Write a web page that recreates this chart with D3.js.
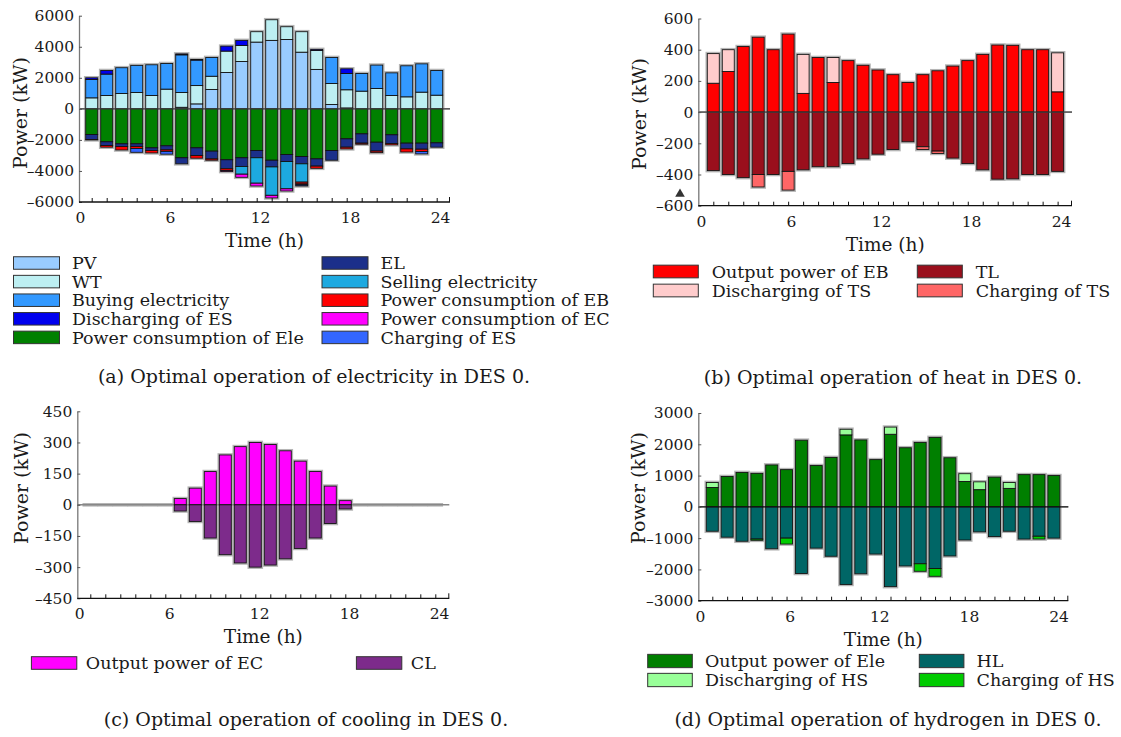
<!DOCTYPE html>
<html><head><meta charset="utf-8">
<script src="https://cdn.jsdelivr.net/npm/d3@7/dist/d3.min.js"></script>
<style>body{margin:0;background:#fff}text{font-family:"DejaVu Serif",serif;fill:#1a1a1a}</style>
</head><body>
<script>
// ---------- data ----------
const hours = d3.range(1, 25);
const timeTicks = [0, 6, 12, 18, 24];

// (a) electricity
const elecTicks = [-6000, -4000, -2000, 0, 2000, 4000, 6000];
const pvPower      = [0,0,0,0,0,0,100,320,1250,2340,3050,4300,4410,4470,3650,2540,280,60,0,0,0,0,0,0];
const wtPower      = [710,860,990,1050,860,1270,950,1180,850,1380,1035,670,1330,820,1320,1220,1350,1170,1140,1310,860,775,1075,880];
const buyingElec   = [1180,1380,1660,1750,1980,1650,2430,1640,1210,0,0,0,0,0,0,0,1680,1050,1140,1510,1460,2000,1825,1590];
const dischargeES  = [110,230,0,0,0,0,60,40,0,320,325,0,0,0,0,70,0,300,0,0,0,0,0,0];
const eleConsume   = [1650,2120,2250,2250,2510,2380,3150,2510,2725,3280,3150,2680,3310,2940,3070,3220,2680,1930,1610,2150,1670,2210,2210,2190];
const elLoad       = [330,240,180,170,170,260,390,500,500,580,560,470,430,450,470,470,630,540,600,570,560,370,390,280];
const sellingElec  = [0,0,0,0,0,0,0,0,0,0,500,1640,1830,1760,1180,0,0,0,0,0,0,0,0,0];
const ebConsume    = [20,110,220,130,160,100,0,170,85,110,0,0,0,0,120,140,0,110,70,100,90,200,150,0];
const ecConsume    = [0,0,0,0,0,0,0,0,0,70,200,180,170,140,60,0,0,0,0,0,0,0,0,0];
const chargeES     = [0,0,0,250,0,180,0,0,0,0,0,0,0,0,70,0,0,0,0,0,0,0,150,0];

// (b) heat
const heatTicks = [-600, -400, -200, 0, 200, 400, 600];
const ebOutput     = [185,260,420,480,400,500,120,350,190,330,300,270,240,190,240,265,295,330,370,430,428,400,400,130];
const dischargeTS  = [190,140,0,0,0,0,250,0,160,0,0,0,0,0,0,0,0,0,0,0,0,0,0,250];
const thermalLoad  = [375,400,420,400,400,380,370,350,350,330,300,270,240,190,222,250,295,330,370,430,428,400,400,380];
const chargeTS     = [0,0,0,80,0,120,0,0,0,0,0,0,0,0,18,15,0,0,0,0,0,0,0,0];

// (c) cooling
const coolTicks = [-450, -300, -150, 0, 150, 300, 450];
const ecOutput     = [0,0,0,0,0,0,30,80,160,240,280,300,290,260,210,160,90,20,0,0,0,0,0,0];
const coolLoad     = [0,0,0,0,0,0,30,80,160,240,280,300,290,260,210,160,90,20,0,0,0,0,0,0];

// (d) hydrogen
const h2Ticks = [-3000, -2000, -1000, 0, 1000, 2000, 3000];
const eleOutput    = [620,970,1100,1070,1340,1190,2130,1320,1580,2300,2140,1510,2320,1890,2060,2220,1570,810,550,950,590,1030,1030,1000];
const dischargeHS  = [160,0,0,0,0,0,0,0,0,180,0,0,230,0,0,0,0,250,250,0,190,0,0,0];
const h2Load       = [780,970,1100,1030,1340,1000,2130,1320,1580,2480,2140,1510,2550,1890,1820,1970,1570,1060,800,950,780,1030,940,1000];
const chargeHS     = [0,0,0,40,0,190,0,0,0,0,0,0,0,0,240,250,0,0,0,0,0,0,90,0];

// ---------- drawing ----------
const svg = d3.select("body").append("svg").attr("width", 1121).attr("height", 737);
const fmt = d => d < 0 ? "\u2013" + Math.abs(d) : String(d);

function drawPanel(p) {
  const g = svg.append("g");
  const y = d3.scaleLinear().domain(p.yDomain).range([p.yBottom, p.yTop]);
  const xb = d3.scaleLinear().domain([1, 24]).range([p.x0 + p.off, p.x0 + p.off + 23 * p.step]);
  const xl = d3.scaleLinear().domain([0, 24]).range(p.labRange);
  const bw = 12;

  // halo
  g.selectAll(".halo").data(hours).join("rect")
    .attr("x", h => xb(h) - bw / 2 - 1).attr("width", bw + 2)
    .attr("y", (h, i) => y(d3.sum(p.pos, s => s.vals[i])) - 1)
    .attr("height", (h, i) => y(-d3.sum(p.neg, s => s.vals[i])) - y(d3.sum(p.pos, s => s.vals[i])) + 2)
    .attr("fill", "none").attr("stroke", "#b5b5b5").attr("stroke-width", 1.6);

  // zero line (under)
  g.append("line").attr("x1", p.x0).attr("x2", p.xRight).attr("y1", y(0)).attr("y2", y(0))
    .attr("stroke", "#888").attr("stroke-width", 1.5);

  function stack(series, sign) {
    const cum = hours.map(() => 0);
    series.forEach(s => {
      g.append("g").selectAll("rect").data(hours).join("rect")
        .attr("x", h => xb(h) - bw / 2).attr("width", bw)
        .attr("y", (h, i) => sign > 0 ? y(cum[i] + s.vals[i]) : y(-cum[i]))
        .attr("height", (h, i) => Math.abs(y(0) - y(s.vals[i])))
        .attr("fill", s.color).attr("stroke", "#111").attr("stroke-width", 0.9)
        .each((h, i) => { cum[i] += s.vals[i]; });
    });
  }
  stack(p.pos, 1);
  stack(p.neg, -1);

  // zero line over bars
  if (p.zeroOver !== false) {
    g.append("line").attr("x1", p.x0).attr("x2", p.xRight).attr("y1", y(0)).attr("y2", y(0))
      .attr("stroke", p.zeroColor || "#444").attr("stroke-width", 1.2).attr("opacity", 0.85);
  }

  // y axis
  const ya = g.append("g").attr("transform", `translate(${p.x0},0)`)
    .call(d3.axisLeft(y).tickValues(p.yTicks).tickFormat(fmt).tickSize(-3).tickSizeOuter(0).tickPadding(5));
  ya.select(".domain").attr("stroke", "#777").attr("stroke-width", 1.3);
  ya.selectAll(".tick line").attr("stroke", "#555");
  ya.selectAll(".tick text").style("font-size", "15.5px").style("font-family", "DejaVu Serif").attr("fill", "#1a1a1a");

  // x axis baseline
  g.append("line").attr("x1", p.x0).attr("x2", p.xRight).attr("y1", p.yBottom).attr("y2", p.yBottom)
    .attr("stroke", "#111").attr("stroke-width", 1.3);
  // minor ticks at each hour
  const mt = g.append("g").attr("transform", `translate(0,${p.yBottom})`)
    .call(d3.axisBottom(xb).tickValues(hours).tickSize(-4).tickSizeOuter(0).tickFormat(""));
  mt.select(".domain").remove();
  mt.selectAll(".tick line").attr("stroke", "#111");
  g.append("line").attr("x1", p.xRight - 0.5).attr("x2", p.xRight - 0.5)
    .attr("y1", p.yBottom).attr("y2", p.yBottom - 5).attr("stroke", "#111");
  // labels
  const xa = g.append("g").attr("transform", `translate(0,${p.yBottom})`)
    .call(d3.axisBottom(xl).tickValues(timeTicks).tickSize(0).tickPadding(10));
  xa.select(".domain").remove();
  xa.selectAll(".tick text").style("font-size", "15.5px").style("font-family", "DejaVu Serif").attr("fill", "#1a1a1a");

  // titles
  g.append("text").attr("x", (p.x0 + p.xRight) / 2).attr("y", p.yBottom + 45)
    .attr("text-anchor", "middle").style("font-size", "18.5px").text("Time (h)");
  g.append("text").attr("transform", `translate(${p.ylabX},${p.ylabY}) rotate(-90)`)
    .attr("text-anchor", "middle").attr("dy", "0.35em").style("font-size", "19px").text("Power (kW)");

  // legend
  p.legend.forEach(it => {
    g.append("rect").attr("x", it.x).attr("y", it.y - p.swH / 2).attr("width", p.swW).attr("height", p.swH)
      .attr("fill", it.color).attr("stroke", "#333").attr("stroke-width", 1);
    g.append("text").attr("x", it.x + p.swW + p.txtGap).attr("y", it.y).attr("dy", "0.35em")
      .style("font-size", "17.5px").text(it.label);
  });
  g.append("text").attr("x", p.capX).attr("y", p.capY).attr("text-anchor", "middle")
    .style("font-size", "19px").text(p.caption);
  return g;
}

const C = {
  pv: "#99CCFF", wt: "#BDEFF2", buy: "#3399FF", disES: "#0000EE", ele: "#008000", el: "#1B2F8A",
  sell: "#1DA9E0", eb: "#FF0000", ec: "#FF00FF", chES: "#3366FF",
  ebOut: "#FF0000", disTS: "#FFCCCC", tl: "#9A0F1C", chTS: "#FF6666",
  ecOut: "#FF00FF", cl: "#7D2B8B",
  eleOut: "#007F00", disHS: "#99FF99", hl: "#006666", chHS: "#00CC00"
};

// (a)
const ra = [263, 281.6, 300.2, 318.8, 337.4];
drawPanel({
  x0: 79, xRight: 450, yTop: 15.7, yBottom: 202, yDomain: [-6000, 6000], yTicks: elecTicks,
  off: 12.7, step: 15, labRange: [80, 440], ylabX: 20, ylabY: 113,
  pos: [{vals: pvPower, color: C.pv}, {vals: wtPower, color: C.wt}, {vals: buyingElec, color: C.buy}, {vals: dischargeES, color: C.disES}],
  neg: [{vals: eleConsume, color: C.ele}, {vals: elLoad, color: C.el}, {vals: sellingElec, color: C.sell},
        {vals: ebConsume, color: C.eb}, {vals: ecConsume, color: C.ec}, {vals: chargeES, color: C.chES}],
  swW: 46, swH: 12.5, txtGap: 12.5,
  legend: [
    {x: 13.5, y: ra[0], color: C.pv, label: "PV"},
    {x: 13.5, y: ra[1], color: C.wt, label: "WT"},
    {x: 13.5, y: ra[2], color: C.buy, label: "Buying electricity"},
    {x: 13.5, y: ra[3], color: C.disES, label: "Discharging of ES"},
    {x: 13.5, y: ra[4], color: C.ele, label: "Power consumption of Ele"},
    {x: 322, y: ra[0], color: C.el, label: "EL"},
    {x: 322, y: ra[1], color: C.sell, label: "Selling electricity"},
    {x: 322, y: ra[2], color: C.eb, label: "Power consumption of EB"},
    {x: 322, y: ra[3], color: C.ec, label: "Power consumption of EC"},
    {x: 322, y: ra[4], color: C.chES, label: "Charging of ES"}
  ],
  capX: 314, capY: 383, caption: "(a) Optimal operation of electricity in DES 0."
});

// (b)
drawPanel({
  x0: 698.3, xRight: 1072, yTop: 18.5, yBottom: 205.7, yDomain: [-600, 600], yTicks: heatTicks,
  off: 15, step: 14.97, labRange: [701, 1061], ylabX: 639, ylabY: 114,
  pos: [{vals: ebOutput, color: C.ebOut}, {vals: dischargeTS, color: C.disTS}],
  neg: [{vals: thermalLoad, color: C.tl}, {vals: chargeTS, color: C.chTS}],
  swW: 45, swH: 12.7, txtGap: 13.4,
  legend: [
    {x: 653.3, y: 271.5, color: C.ebOut, label: "Output power of EB"},
    {x: 653.3, y: 290.5, color: C.disTS, label: "Discharging of TS"},
    {x: 917.3, y: 271.5, color: C.tl, label: "TL"},
    {x: 917.3, y: 290.5, color: C.chTS, label: "Charging of TS"}
  ],
  capX: 893, capY: 384, caption: "(b) Optimal operation of heat in DES 0."
});
svg.append("path").attr("d", d3.symbol(d3.symbolTriangle, 40)()).attr("transform", "translate(680,194)").attr("fill", "#333");

// (c)
drawPanel({
  x0: 77.3, xRight: 449.3, yTop: 411.3, yBottom: 598.3, yDomain: [-450, 450], yTicks: coolTicks,
  off: 13, step: 15, labRange: [79.3, 439], ylabX: 21, ylabY: 488, zeroOver: false,
  pos: [{vals: ecOutput, color: C.ecOut}],
  neg: [{vals: coolLoad, color: C.cl}],
  swW: 45.4, swH: 12.6, txtGap: 9,
  legend: [
    {x: 31.4, y: 663, color: C.ecOut, label: "Output power of EC"},
    {x: 356.4, y: 663, color: C.cl, label: "CL"}
  ],
  capX: 306, capY: 726, caption: "(c) Optimal operation of cooling in DES 0."
});

// (d)
drawPanel({
  x0: 698.3, xRight: 1068.3, yTop: 413, yBottom: 600.7, yDomain: [-3000, 3000], yTicks: h2Ticks,
  off: 14, step: 14.85, labRange: [700, 1058.5], ylabX: 638, ylabY: 488, zeroColor: "#111",
  pos: [{vals: eleOutput, color: C.eleOut}, {vals: dischargeHS, color: C.disHS}],
  neg: [{vals: h2Load, color: C.hl}, {vals: chargeHS, color: C.chHS}],
  swW: 44.6, swH: 13.3, txtGap: 12.7,
  legend: [
    {x: 647.7, y: 661, color: C.eleOut, label: "Output power of Ele"},
    {x: 647.7, y: 680, color: C.disHS, label: "Discharging of HS"},
    {x: 919.3, y: 661, color: C.hl, label: "HL"},
    {x: 919.3, y: 680, color: C.chHS, label: "Charging of HS"}
  ],
  capX: 888, capY: 726, caption: "(d) Optimal operation of hydrogen in DES 0."
});
</script>
</body></html>
